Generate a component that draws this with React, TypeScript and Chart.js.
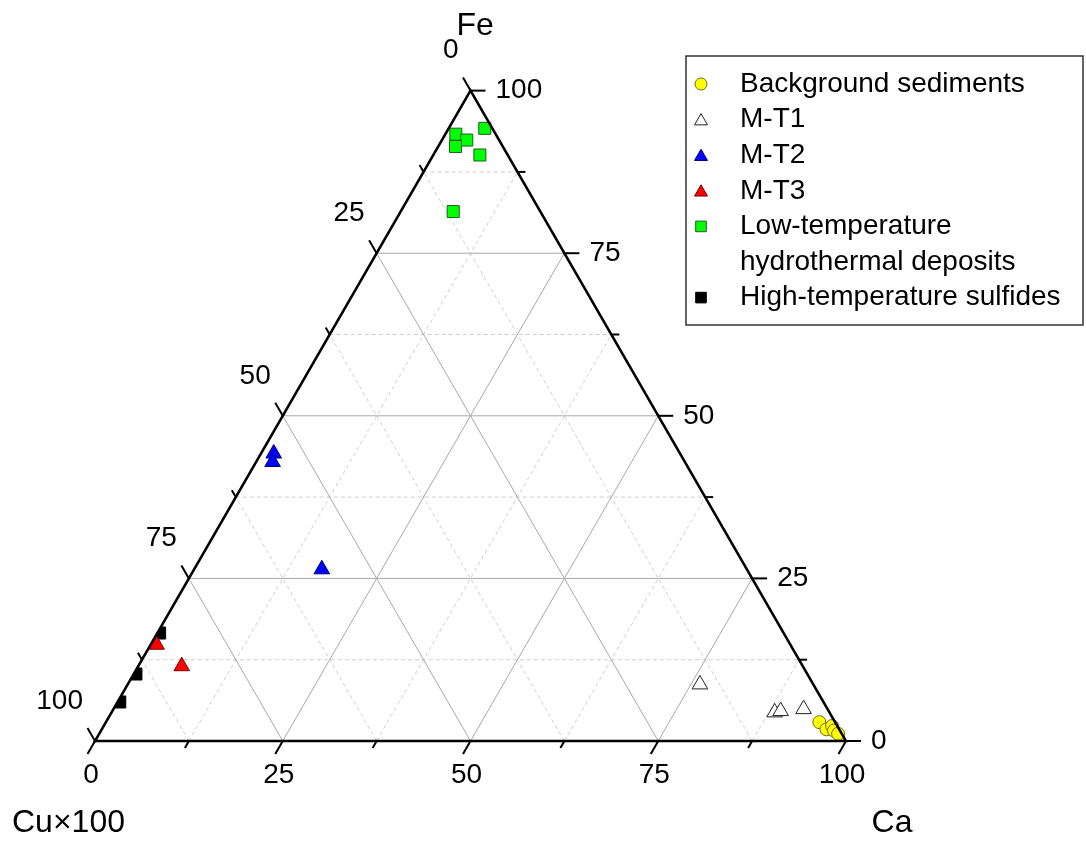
import React, { useEffect, useRef } from 'react';
import { Chart, registerables } from 'chart.js';

Chart.register(...registerables);

// ---- Data (ternary compositions, percent: Cu×100, Ca, Fe) ----
const seriesLabels = [
  'Background sediments',
  'M-T1',
  'M-T2',
  'M-T3',
  'Low-temperature\nhydrothermal deposits',
  'High-temperature sulfides',
];

const bgCu = [2.1, 1.7, 0.7, 0.8, 0.5];
const bgCa = [95.0, 96.5, 97.0, 97.6, 98.4];
const bgFe = [2.9, 1.8, 2.3, 1.6, 1.1];

const mt1Cu = [15.1, 7.3, 6.4, 3.2];
const mt1Ca = [76.2, 88.3, 89.0, 91.9];
const mt1Fe = [8.7, 4.4, 4.6, 4.9];

const mt2Cu = [54.1, 54.9, 56.6];
const mt2Ca = [1.7, 2.2, 17.0];
const mt2Fe = [44.2, 42.9, 26.4];

const mt3Cu = [84.4, 82.7];
const mt3Ca = [0.8, 5.8];
const mt3Fe = [14.8, 11.5];

const lowCu = [5.3, 1.0, 4.3, 6.3, 3.7, 11.6];
const lowCa = [1.4, 4.8, 3.3, 2.3, 6.2, 7.0];
const lowFe = [93.3, 94.2, 92.4, 91.4, 90.1, 81.4];

const highCu = [83.1, 89.4, 93.7];
const highCa = [0.3, 0.3, 0.3];
const highFe = [16.6, 10.3, 6.0];

const majorTicks = [0, 25, 50, 75, 100];
const tickLabels = ['0', '25', '50', '75', '100'];
const minorTicks = [12.5, 37.5, 62.5, 87.5];
const axisTitles = { left: 'Cu×100', right: 'Ca', top: 'Fe' };

// ---- Layout ----
const W = 1086;
const H = 844;
const LEFT_PX = 95;
const BOTTOM_PX = 741;
const SIDE_PX = 751;
const S3 = Math.sqrt(3) / 2;
const FONT = 'Arial, "Liberation Sans", sans-serif';

function toXY(cu: number[], ca: number[], fe: number[]) {
  return cu.map((c, i) => {
    const s = c + ca[i] + fe[i];
    const a = ca[i] / s;
    const f = fe[i] / s;
    return { x: a + f / 2, y: f * S3 };
  });
}

const styles = [
  { pointStyle: 'circle', bg: '#ffff00', border: '#6b6b20', r: 6.5, lr: 6 },
  { pointStyle: 'triangle', bg: '#ffffff', border: '#222222', r: 9, lr: 7.5 },
  { pointStyle: 'triangle', bg: '#0000ff', border: '#00006e', r: 9, lr: 7.5 },
  { pointStyle: 'triangle', bg: '#ff0000', border: '#7a0000', r: 9, lr: 7.5 },
  { pointStyle: 'rect', bg: '#00ff00', border: '#1d5e1d', r: 8.5, lr: 7.5 },
  { pointStyle: 'rect', bg: '#000000', border: '#000000', r: 8.5, lr: 7.5 },
];

const seriesData = [
  toXY(bgCu, bgCa, bgFe),
  toXY(mt1Cu, mt1Ca, mt1Fe),
  toXY(mt2Cu, mt2Ca, mt2Fe),
  toXY(mt3Cu, mt3Ca, mt3Fe),
  toXY(lowCu, lowCa, lowFe),
  toXY(highCu, highCa, highFe),
];

function pix(chart: any, ca: number, fe: number) {
  const xs = chart.scales.x;
  const ys = chart.scales.y;
  return [xs.getPixelForValue(ca + fe / 2), ys.getPixelForValue(fe * S3)];
}

function trianglePath(chart: any, ctx: CanvasRenderingContext2D) {
  const [ax, ay] = pix(chart, 0, 0);
  const [bx, by] = pix(chart, 1, 0);
  const [cx, cy] = pix(chart, 0, 1);
  ctx.beginPath();
  ctx.moveTo(ax, ay);
  ctx.lineTo(bx, by);
  ctx.lineTo(cx, cy);
  ctx.closePath();
}

const gridPlugin = {
  id: 'ternaryGrid',
  beforeDatasetsDraw(chart: any) {
    const ctx: CanvasRenderingContext2D = chart.ctx;
    ctx.save();
    const drawSet = (vals: number[], color: string, dash: number[]) => {
      ctx.strokeStyle = color;
      ctx.lineWidth = 1;
      ctx.setLineDash(dash);
      vals.forEach((v0) => {
        const v = v0 / 100;
        let p = pix(chart, 0, v), q = pix(chart, 1 - v, v);
        ctx.beginPath(); ctx.moveTo(p[0], p[1]); ctx.lineTo(q[0], q[1]); ctx.stroke();
        p = pix(chart, v, 0); q = pix(chart, v, 1 - v);
        ctx.beginPath(); ctx.moveTo(p[0], p[1]); ctx.lineTo(q[0], q[1]); ctx.stroke();
        p = pix(chart, 1 - v, 0); q = pix(chart, 0, 1 - v);
        ctx.beginPath(); ctx.moveTo(p[0], p[1]); ctx.lineTo(q[0], q[1]); ctx.stroke();
      });
    };
    drawSet(minorTicks, '#cfcfcf', [4, 3]);
    drawSet(majorTicks.filter((v) => v > 0 && v < 100), '#a8a8a8', []);
    ctx.restore();
  },
  beforeDatasetDraw(chart: any, args: any) {
    if (args.index === 5) {
      const ctx: CanvasRenderingContext2D = chart.ctx;
      ctx.save();
      trianglePath(chart, ctx);
      ctx.clip();
    }
  },
  afterDatasetDraw(chart: any, args: any) {
    if (args.index === 5) chart.ctx.restore();
  },
  afterDatasetsDraw(chart: any) {
    const ctx: CanvasRenderingContext2D = chart.ctx;
    ctx.save();
    ctx.setLineDash([]);
    ctx.strokeStyle = '#000000';
    ctx.lineWidth = 2.5;
    ctx.lineJoin = 'miter';
    trianglePath(chart, ctx);
    ctx.stroke();

    ctx.lineWidth = 2;
    const tick = (px: number, py: number, dx: number, dy: number, len: number) => {
      ctx.beginPath();
      ctx.moveTo(px, py);
      ctx.lineTo(px + dx * len, py + dy * len);
      ctx.stroke();
    };
    const all = [...majorTicks.map((v) => [v, 15]), ...minorTicks.map((v) => [v, 8])];
    all.forEach(([v0, len]) => {
      const v = v0 / 100;
      let p = pix(chart, v, 0);
      tick(p[0], p[1], -0.5, 0.866, len);
      p = pix(chart, 0, 1 - v);
      tick(p[0], p[1], -0.5, -0.866, len);
      p = pix(chart, 1 - v, v);
      tick(p[0], p[1], 1, 0, len);
    });

    ctx.fillStyle = '#000000';
    ctx.font = `28px ${FONT}`;
    ctx.textBaseline = 'middle';
    majorTicks.forEach((v0, i) => {
      const v = v0 / 100;
      let p = pix(chart, v, 0);
      ctx.textAlign = 'center';
      ctx.fillText(tickLabels[i], p[0] - 4, p[1] + 34);
      p = pix(chart, 1 - v, v);
      ctx.textAlign = 'left';
      ctx.fillText(tickLabels[i], p[0] + 25, p[1]);
      p = pix(chart, 0, 1 - v);
      ctx.textAlign = 'right';
      ctx.fillText(tickLabels[i], p[0] - 12, p[1] - 40);
    });

    ctx.font = `32px ${FONT}`;
    const [tx, ty] = pix(chart, 0, 1);
    ctx.textAlign = 'left';
    ctx.fillText(axisTitles.top, tx - 14, ty - 64);
    const [lx, ly] = pix(chart, 0, 0);
    ctx.fillText(axisTitles.left, lx - 83, ly + 82);
    const [rx, ry] = pix(chart, 1, 0);
    ctx.textAlign = 'center';
    ctx.fillText(axisTitles.right, rx + 46, ry + 82);
    ctx.restore();
  },
};

function drawMarker(ctx: CanvasRenderingContext2D, style: string, x: number, y: number, r: number) {
  ctx.beginPath();
  if (style === 'circle') {
    ctx.arc(x, y, r, 0, Math.PI * 2);
  } else if (style === 'triangle') {
    ctx.moveTo(x, y - r);
    ctx.lineTo(x + r * 0.866, y + r / 2);
    ctx.lineTo(x - r * 0.866, y + r / 2);
    ctx.closePath();
  } else {
    const s = r * Math.SQRT1_2;
    ctx.rect(x - s, y - s, 2 * s, 2 * s);
  }
  ctx.fill();
  ctx.stroke();
}

const legendPlugin = {
  id: 'boxLegend',
  afterDraw(chart: any) {
    const ctx: CanvasRenderingContext2D = chart.ctx;
    ctx.save();
    const bx = 686, by = 56, bw = 397, bh = 269;
    ctx.strokeStyle = '#333333';
    ctx.lineWidth = 1.5;
    ctx.strokeRect(bx, by, bw, bh);
    ctx.font = `28px ${FONT}`;
    ctx.textBaseline = 'middle';
    ctx.textAlign = 'left';
    ctx.fillStyle = '#000000';
    let line = 0;
    const y0 = 84, dy = 35.6;
    seriesLabels.forEach((lab, i) => {
      const st = styles[i];
      const y = y0 + line * dy;
      ctx.fillStyle = st.bg;
      ctx.strokeStyle = st.border;
      ctx.lineWidth = 1;
      drawMarker(ctx, st.pointStyle, 701, st.pointStyle === 'triangle' ? y + 1.5 : y, st.lr);
      ctx.fillStyle = '#000000';
      lab.split('\n').forEach((t) => {
        ctx.fillText(t, 740, y0 + line * dy);
        line++;
      });
    });
    ctx.restore();
  },
};

export default function App() {
  const ref = useRef<HTMLCanvasElement>(null);
  useEffect(() => {
    if (!ref.current) return;
    const yMax = BOTTOM_PX / SIDE_PX;
    const chart = new Chart(ref.current, {
      type: 'scatter',
      data: {
        datasets: seriesData.map((d, i) => ({
          label: seriesLabels[i],
          data: d,
          pointStyle: styles[i].pointStyle as any,
          pointRadius: styles[i].r,
          pointBackgroundColor: styles[i].bg,
          pointBorderColor: styles[i].border,
          pointBorderWidth: 1,
          showLine: false,
        })),
      },
      options: {
        responsive: false,
        animation: false,
        events: [],
        layout: { padding: 0, autoPadding: false },
        plugins: { legend: { display: false }, tooltip: { enabled: false }, title: { display: false } },
        scales: {
          x: { type: 'linear', display: false, min: -LEFT_PX / SIDE_PX, max: (W - LEFT_PX) / SIDE_PX },
          y: { type: 'linear', display: false, min: yMax - H / SIDE_PX, max: yMax },
        },
      },
      plugins: [gridPlugin, legendPlugin],
    });
    return () => chart.destroy();
  }, []);
  return (
    <div style={{ position: 'fixed', left: 0, top: 0, width: W, height: H, background: '#ffffff' }}>
      <canvas ref={ref} width={W} height={H} style={{ display: 'block' }} />
    </div>
  );
}
